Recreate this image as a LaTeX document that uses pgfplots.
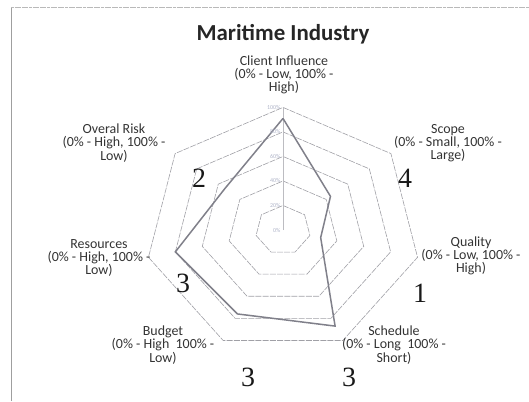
\documentclass[border=0pt]{standalone}
\usepackage{pgfplots}
\pgfplotsset{compat=1.18}
\usepackage{fontspec}
\setmainfont{Carlito}
\newfontfamily\hand{Liberation Serif}
\definecolor{gridc}{RGB}{160,160,166}
\definecolor{datac}{RGB}{128,128,138}
\definecolor{tickc}{RGB}{175,180,200}
\begin{document}
\begin{tikzpicture}[x=1bp,y=1bp]
\path[use as bounding box] (0,0) rectangle (529,401);
\draw[gray!75, line width=0.7bp] (11,0) -- (11,393);
\draw[gray!55, line width=0.6bp, dash pattern=on 3bp off 0.6bp] (11,394) -- (529,394);
\node[font=\bfseries\fontsize{23}{26}\selectfont, text=black!85] at (283,367) {Maritime Industry};
\begin{axis}[at={(283bp,171bp)}, anchor=center, x=1.38bp, y=1.226bp,
  xmin=-110, xmax=110, ymin=-110, ymax=110, hide axis, clip=false]
% gridlines
\foreach \r in {20,40,60,80,100}{
  \edef\tmp{\noexpand\addplot[gridc, line width=0.6bp, dash pattern=on 6bp off 1.2bp, data cs=polar] coordinates {(90,\r) (38.571,\r) (-12.857,\r) (-64.286,\r) (-115.714,\r) (-167.143,\r) (-218.571,\r) (90,\r)};}
  \tmp
}
\addplot[gridc!70, line width=0.5bp] coordinates {(0,0) (0,100)};
% data
\addplot[datac, line width=1.5bp, data cs=polar] coordinates {(90,91) (38.571,44) (-12.857,28) (-64.286,87) (-115.714,76) (-167.143,80) (-218.571,54) (90,91)};
% value labels
\foreach \r/\t in {0/0\%,20/20\%,40/40\%,60/60\%,80/80\%,100/100\%}{
  \edef\tmp{\noexpand\node[anchor=east, font=\noexpand\fontsize{6}{7}\noexpand\selectfont, text=tickc, inner sep=1bp] at (axis cs:-1,\r) {\t};}
  \tmp
}
\end{axis}
\begin{scope}[every node/.style={align=center, text=black!80, font=\fontsize{14}{13.3}\selectfont}]
\node at (284,326) {Client Influence\\(0\% - Low, 100\% -\\High)};
\node at (448,258) {Scope\\(0\% - Small, 100\% -\\Large)};
\node at (471,145) {Quality\\(0\% - Low, 100\% -\\High)};
\node at (394,56) {Schedule\\(0\% - Long\ \ 100\% -\\Short)};
\node at (163,56) {Budget\\(0\% - High\ \ 100\% -\\Low)};
\node at (99,143) {Resources\\(0\% - High, 100\% -\\Low)};
\node at (114,258) {Overal Risk\\(0\% - High, 100\% -\\Low)};
\end{scope}
\begin{scope}[every node/.style={text=black!90, font=\hand\fontsize{28}{30}\selectfont}]
\node at (199,223) {2};
\node at (405,223) {4};
\node at (183,118) {3};
\node at (420,108) {1};
\node at (248,24) {3};
\node at (349,24) {3};
\end{scope}
\end{tikzpicture}
\end{document}
